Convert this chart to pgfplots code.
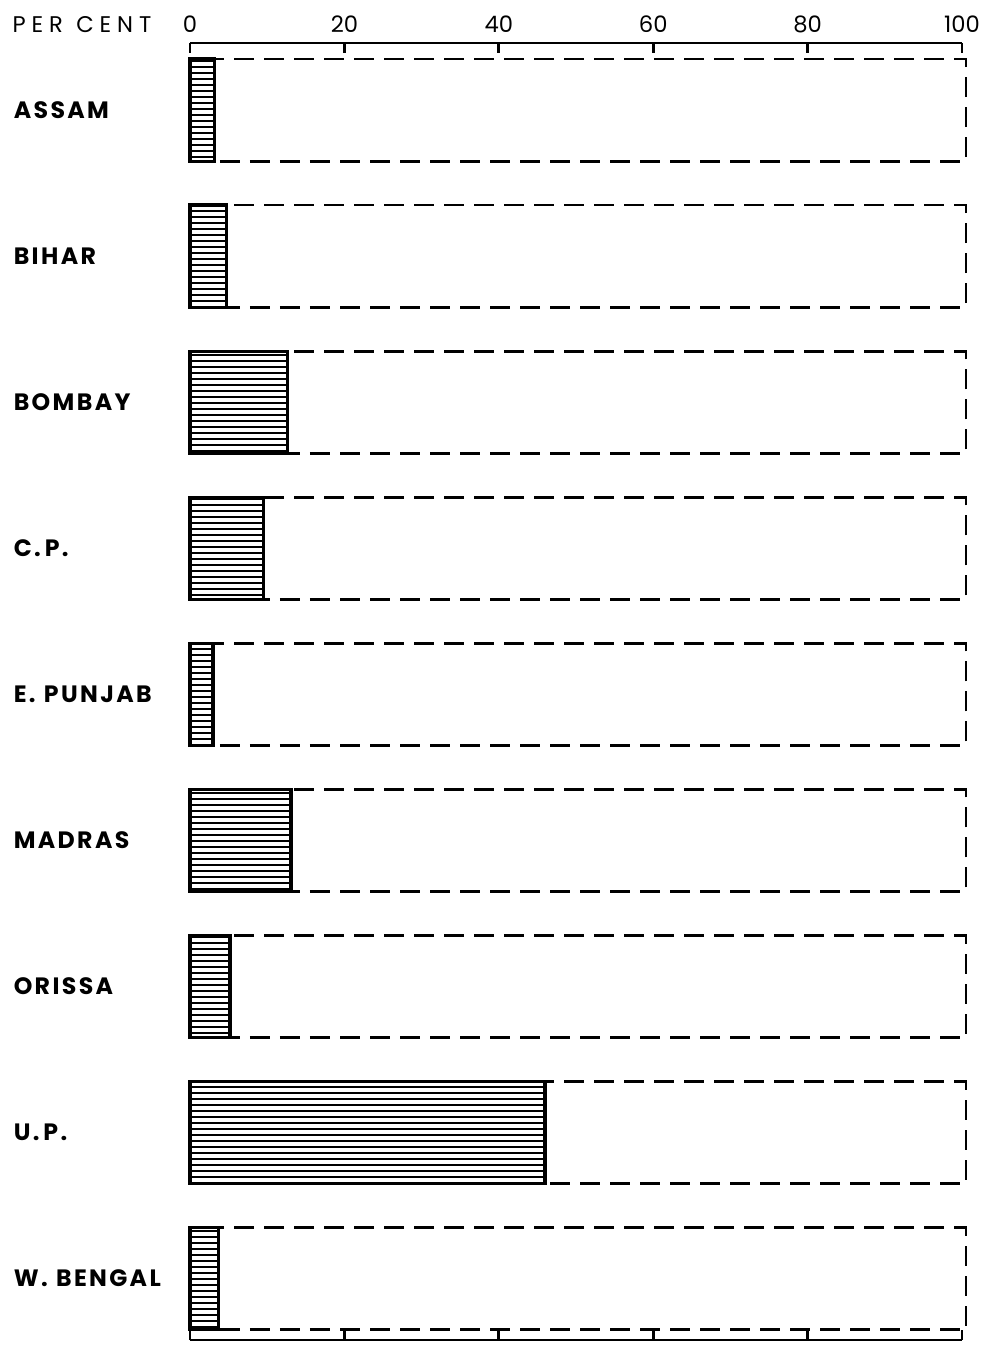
\documentclass[border=0pt]{standalone}
\usepackage{fontspec}
\setmainfont{Poppins}
\newfontfamily\labfont[LetterSpace=10]{Poppins}
\newfontfamily\pcfont[LetterSpace=26]{Poppins}
\usepackage{pgfplots}
\pgfplotsset{compat=1.18}
\usetikzlibrary{patterns.meta}

\pgfplotstableread{
y val
8 3.2
7 4.7
6 12.6
5 9.5
4 3.0
3 13.1
2 5.2
1 46.0
0 3.7
}\shares

\pgfplotstableread{
y val
8 100.5
7 100.5
6 100.5
5 100.5
4 100.5
3 100.5
2 100.5
1 100.5
0 100.5
}\whole

\begin{document}
\begin{tikzpicture}
\useasboundingbox (-57pt,-1.5pt) rectangle (237.3pt,402pt);
\begin{axis}[
  at={(0,0)}, anchor=south west,
  scale only axis, width=231.6pt, height=389.1pt,
  xmin=0, xmax=100, ymin=-0.42, ymax=8.46,
  separate axis lines,
  y axis line style={draw=none},
  x axis line style={line width=0.8pt},
  xtick={0,20,40,60,80,100},
  xticklabel pos=upper,
  tick align=inside,
  major tick length=3pt,
  xtick style={line width=0.8pt, black},
  /pgf/number format/assume math mode=true,
  xticklabel style={font=\fontsize{6.8}{8}\selectfont, anchor=base, yshift=3pt},
  ytick={0,1,2,3,4,5,6,7,8},
  yticklabels={W.\hspace{2.5pt}BENGAL, U.\,P., ORISSA, MADRAS, E.\hspace{2.5pt}PUNJAB, C.\,P., BOMBAY, BIHAR, ASSAM},
  ytick style={draw=none},
  yticklabel style={anchor=west, xshift=-53.4pt, font=\labfont\bfseries\fontsize{7.1}{9}\selectfont},
  clip=false,
  xbar, bar width=0.7,
]
\addplot[xbar, bar shift=0pt, draw=black, line width=0.8pt, dash pattern=on 6pt off 3pt, fill=none]
  table[x=val, y=y] {\whole};
\addplot[xbar, bar shift=0pt, draw=black, line width=1.0pt, fill=white,
  postaction={pattern={Lines[angle=0, distance=1.8pt, line width=0.8pt]}}]
  table[x=val, y=y] {\shares};
\node[anchor=base west, font=\pcfont\fontsize{6.8}{8}\selectfont, inner sep=0pt]
  at (rel axis cs:0,1) [xshift=-53.4pt, yshift=3pt] {PER\hspace{4pt}CENT};
\end{axis}
\end{tikzpicture}
\end{document}
